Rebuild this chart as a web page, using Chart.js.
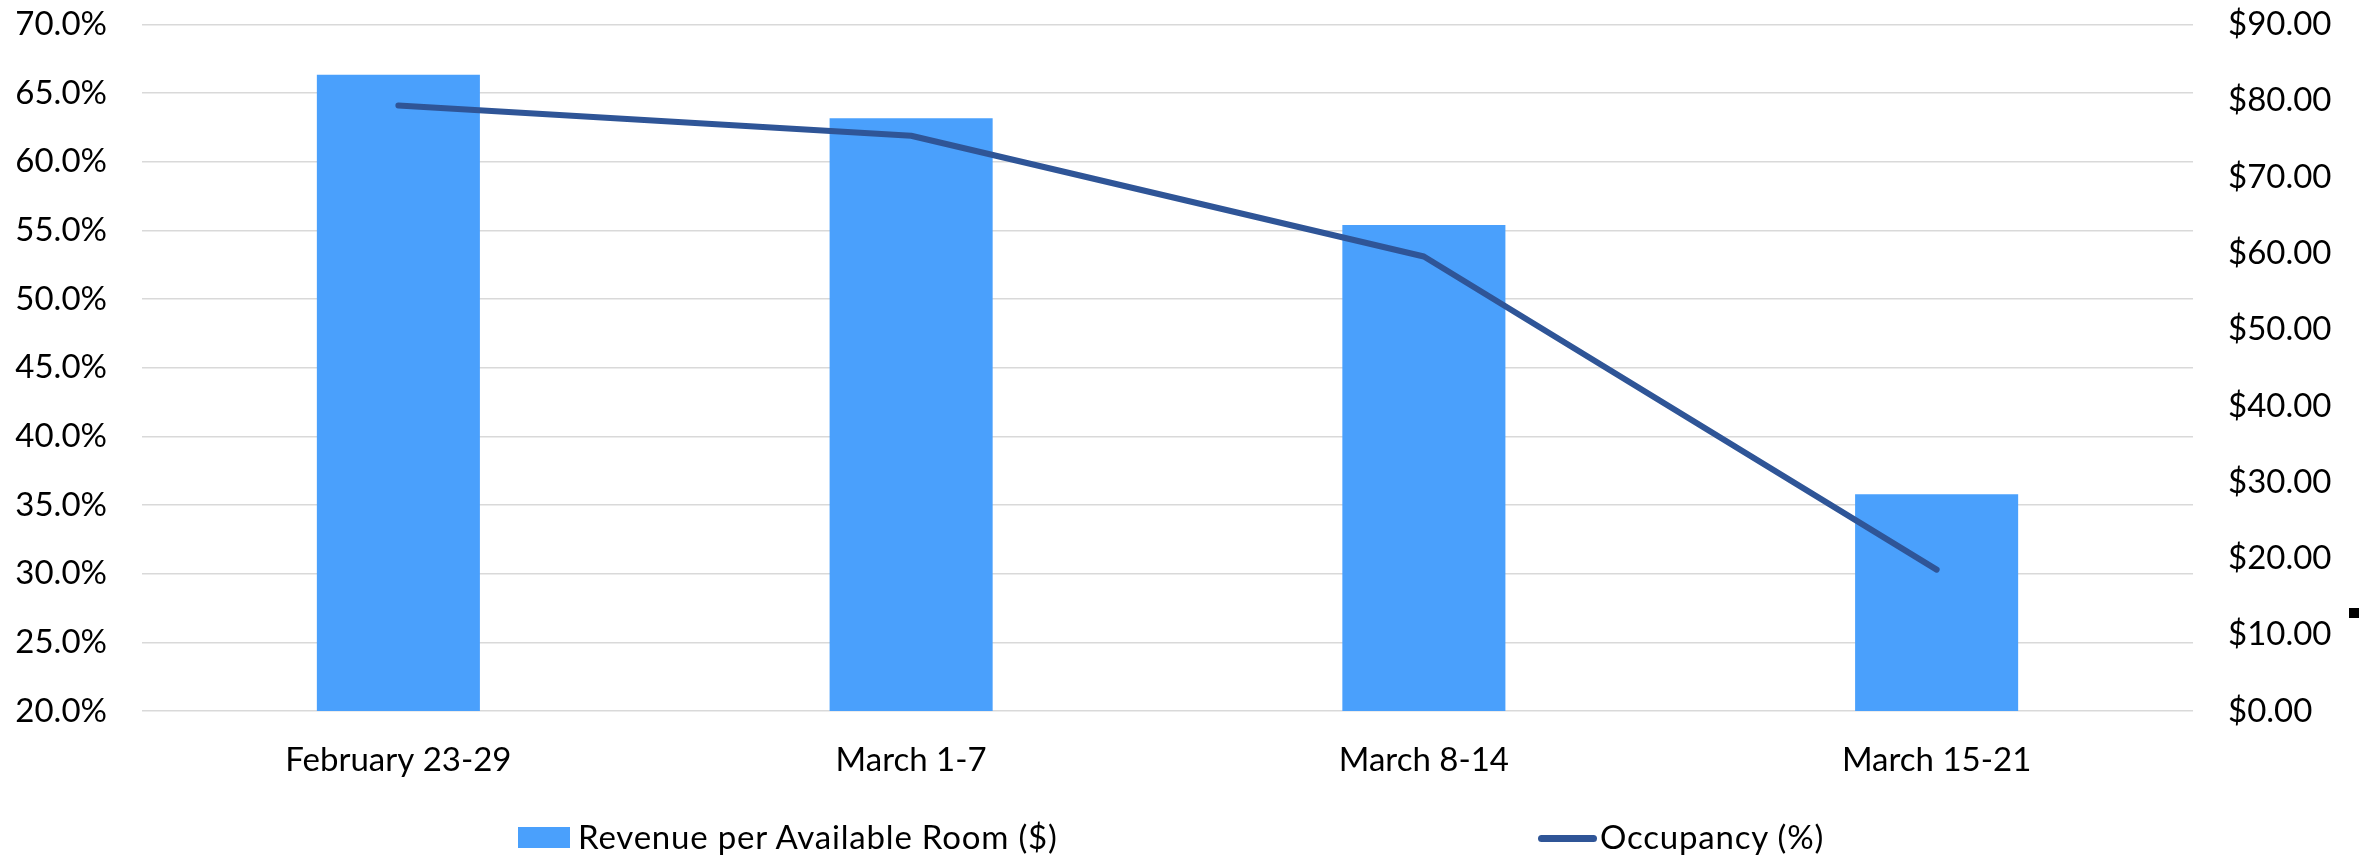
<!DOCTYPE html>
<html>
<head>
<meta charset="utf-8">
<script src="https://cdn.jsdelivr.net/npm/chart.js@4.4.1/dist/chart.umd.min.js"></script>
<style>
  body { margin: 0; background: #fff; }
  #wrap { position: relative; width: 2368px; height: 858px; }
  #legend { position: absolute; left: 0; top: 0; width: 100%; height: 100%; pointer-events: none;
            font-family: Lato, sans-serif; font-size: 33px; letter-spacing: 0.8px; color: #000; }
  .item { position: absolute; display: flex; align-items: center; white-space: nowrap; }
  .swatch { display: inline-block; margin-right: 8px; }
  #mark { position: absolute; left: 2349px; top: 608px; width: 10px; height: 10px; background: #000; }
</style>
</head>
<body>
<div id="wrap">
  <canvas id="mycanvas"></canvas>
  <div id="legend"></div>
  <div id="mark"></div>
</div>
<script>
var weeks = ["February 23-29", "March 1-7", "March 8-14", "March 15-21"];
var revpar = [83.4, 77.7, 63.7, 28.4];      // Revenue per Available Room ($)
var occupancy = [64.1, 61.9, 53.1, 30.3];   // Occupancy (%)

var barColor = "#4aa0fc";
var lineColor = "#2f5597";

Chart.defaults.font.family = "Lato";
Chart.defaults.font.size = 33;
Chart.defaults.color = "#000";

// y axes: fixed width, and no extra top/bottom padding from the tick labels
function fixWidth(w) {
  return function(s) {
    s.width = w;
    s.paddingTop = 0;
    s.paddingBottom = 0;
  };
}

var ctx = document.getElementById("mycanvas");

var chart = new Chart(ctx, {
  type: "bar",
  data: {
    labels: weeks,
    datasets: [
      {
        type: "line",
        label: "Occupancy (%)",
        data: occupancy,
        yAxisID: "yOcc",
        borderColor: lineColor,
        backgroundColor: lineColor,
        borderWidth: 6,
        borderCapStyle: "round",
        borderJoinStyle: "round",
        pointRadius: 0,
        tension: 0,
        fill: false,
        order: 0
      },
      {
        type: "bar",
        label: "Revenue per Available Room ($)",
        data: revpar,
        yAxisID: "yRev",
        backgroundColor: barColor,
        barPercentage: 0.318,
        categoryPercentage: 1,
        order: 1
      }
    ]
  },
  options: {
    responsive: true,
    maintainAspectRatio: false,
    animation: { duration: 0 },
    layout: { padding: { top: 24.5, bottom: 0, left: 0, right: 0 } },
    plugins: {
      legend: { display: false },
      tooltip: { enabled: false }
    },
    scales: {
      x: {
        grid: { display: false, drawTicks: false },
        border: { display: false },
        ticks: { padding: 30, maxRotation: 0 },
        afterFit: function(s) { s.height = 147; }
      },
      yOcc: {
        position: "left",
        min: 20,
        max: 70,
        grid: { color: "#d9d9d9", lineWidth: 1.5, drawTicks: false },
        border: { display: false },
        ticks: {
          stepSize: 5,
          padding: 35,
          callback: function(v) { return v.toFixed(1) + "%"; }
        },
        afterFit: fixWidth(142)
      },
      yRev: {
        position: "right",
        min: 0,
        max: 90,
        grid: { display: false, drawTicks: false },
        border: { display: false },
        ticks: {
          stepSize: 10,
          padding: 35,
          callback: function(v) { return "$" + v.toFixed(2); }
        },
        afterFit: fixWidth(175)
      }
    }
  }
});

// legend spread across the bottom, bar series first
var legend = document.getElementById("legend");
var spots = { "Revenue per Available Room ($)": 518, "Occupancy (%)": 1538 };
chart.data.datasets.slice().sort(function(a, b) { return b.order - a.order; }).forEach(function(ds) {
  var item = document.createElement("div");
  item.className = "item";
  item.style.left = spots[ds.label] + "px";
  item.style.top = "815px";
  item.style.height = "42px";
  var sw = document.createElement("span");
  sw.className = "swatch";
  if (ds.type === "bar") {
    sw.style.width = "52px";
    sw.style.height = "21px";
    sw.style.background = ds.backgroundColor;
    sw.style.marginTop = "3px";
  } else {
    sw.style.width = "59px";
    sw.style.height = "7px";
    sw.style.borderRadius = "3.5px";
    sw.style.background = ds.borderColor;
    sw.style.marginRight = "3px";
    sw.style.marginTop = "4px";
  }
  var txt = document.createElement("span");
  txt.textContent = ds.label;
  item.appendChild(sw);
  item.appendChild(txt);
  legend.appendChild(item);
});
</script>
</body>
</html>
